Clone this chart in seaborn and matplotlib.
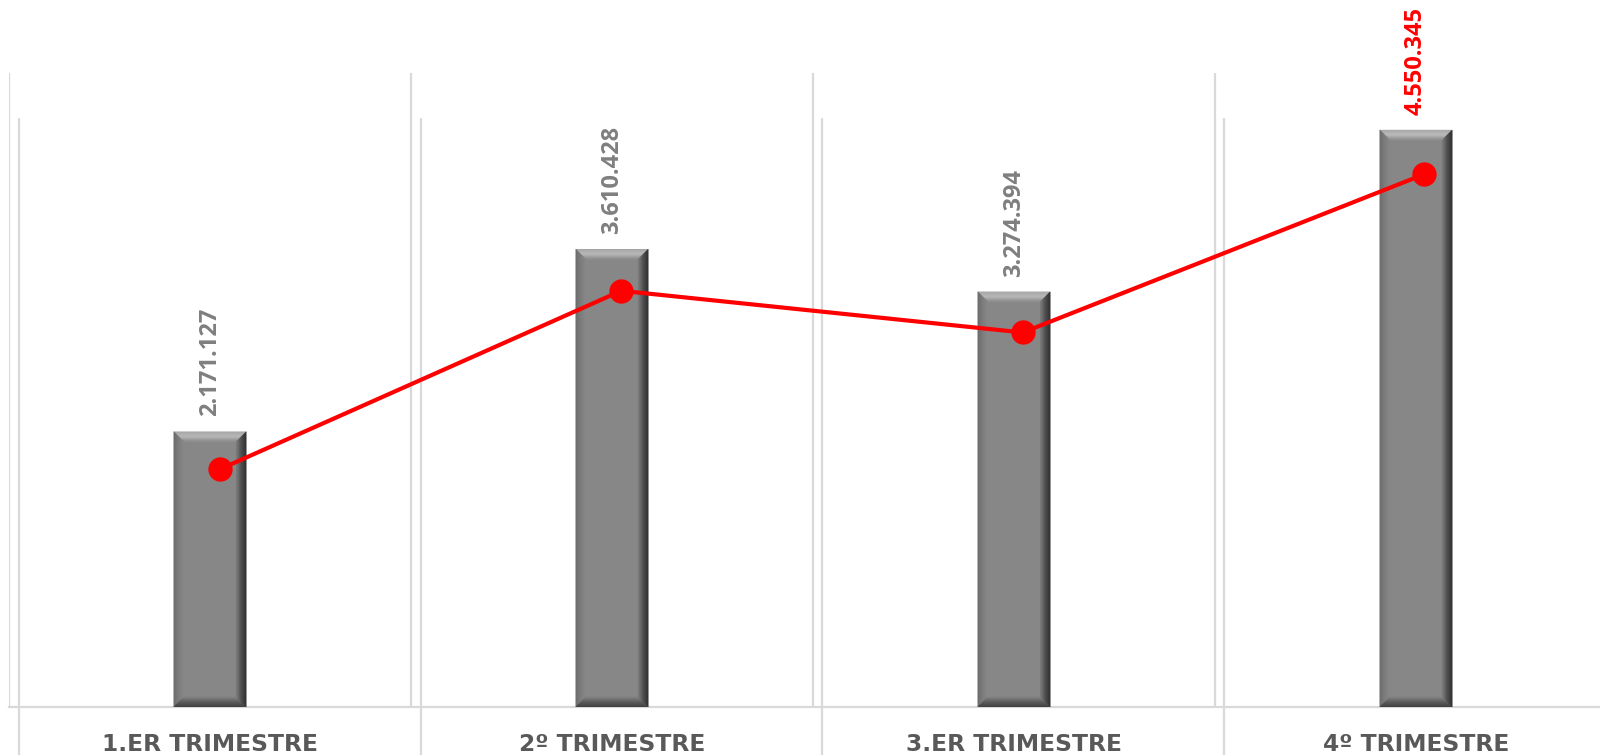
import numpy as np
import matplotlib
matplotlib.use("Agg")
import matplotlib.pyplot as plt
from matplotlib.patches import Polygon
from matplotlib.colors import to_rgb
import seaborn as sns

# Quarterly totals
categories = ["1.ER TRIMESTRE", "2º TRIMESTRE", "3.ER TRIMESTRE", "4º TRIMESTRE"]
bar_values = [2171127, 3610428, 3274394, 4550345]
line_values = [2171127, 3610428, 3274394, 4550345]
label_colors = ["#7f7f7f", "#7f7f7f", "#7f7f7f", "#ff0000"]

sns.set_theme(style="white")
plt.rcParams["font.family"] = ["Open Sans", "DejaVu Sans"]

W, H = 1600, 755
fig = plt.figure(figsize=(W / 100, H / 100), dpi=100)
fig.patch.set_facecolor("white")

GRID = "#d9d9d9"

# Bar axes
ax = fig.add_axes([9 / W, (H - 707) / H, 1608 / W, 634 / H])
sns.barplot(x=categories, y=bar_values, ax=ax, width=0.18, color="#878787",
            saturation=1, edgecolor="none", linewidth=0)
ax.set_xlim(-0.5, len(categories) - 0.5)
ax.set_ylim(0, 5_000_000)
ax.set_yticks([])
ax.set_xlabel("")
ax.set_ylabel("")
for s in ["top", "left", "right"]:
    ax.spines[s].set_visible(False)
ax.spines["bottom"].set_color(GRID)
ax.spines["bottom"].set_linewidth(1.6)
ax.set_xticks(np.arange(len(categories) + 1) - 0.5, minor=True)
ax.grid(which="minor", axis="x", color=GRID, linewidth=1.6)
ax.tick_params(axis="x", which="both", length=0, pad=19, labelcolor="#595959")
for t in ax.get_xticklabels():
    t.set_fontweight("bold")
    t.set_fontfamily("DejaVu Sans")
    t.set_fontsize(16.8)

# Bevelled look on each bar
ax_w_px = ax.get_position().width * W
ax_h_px = ax.get_position().height * H
ux = (ax.get_xlim()[1] - ax.get_xlim()[0]) / ax_w_px
uy = (ax.get_ylim()[1] - ax.get_ylim()[0]) / ax_h_px


def mix(c1, c2, t):
    a, b = np.array(to_rgb(c1)), np.array(to_rgb(c2))
    return tuple(a + (b - a) * t)


def bevel(patch, size=10, bands=10):
    x0, y0 = patch.get_x(), patch.get_y()
    x1, y1 = x0 + patch.get_width(), y0 + patch.get_height()
    dx, dy = size * ux, size * uy
    sides = {
        "top": ("#a8a8a8", "#bcbcbc", "#8c8c8c"),
        "left": ("#6a6a6a", "#7c7c7c", "#888888"),
        "right": ("#2a2a2a", "#4a4a4a", "#7c7c7c"),
        "bottom": ("#3e3e3e", "#5a5a5a", "#828282"),
    }
    for side, (c_out, c_mid, c_in) in sides.items():
        for i in range(bands):
            t0, t1 = i / bands, (i + 1) / bands
            tc = (t0 + t1) / 2
            col = mix(c_out, c_mid, tc * 2) if tc < 0.5 else mix(c_mid, c_in, (tc - 0.5) * 2)
            if side == "top":
                pts = [(x0 + dx * t0, y1 - dy * t0), (x1 - dx * t0, y1 - dy * t0),
                       (x1 - dx * t1, y1 - dy * t1), (x0 + dx * t1, y1 - dy * t1)]
            elif side == "bottom":
                pts = [(x0 + dx * t0, y0 + dy * t0), (x1 - dx * t0, y0 + dy * t0),
                       (x1 - dx * t1, y0 + dy * t1), (x0 + dx * t1, y0 + dy * t1)]
            elif side == "left":
                pts = [(x0 + dx * t0, y0 + dy * t0), (x0 + dx * t0, y1 - dy * t0),
                       (x0 + dx * t1, y1 - dy * t1), (x0 + dx * t1, y0 + dy * t1)]
            else:
                pts = [(x1 - dx * t0, y0 + dy * t0), (x1 - dx * t0, y1 - dy * t0),
                       (x1 - dx * t1, y1 - dy * t1), (x1 - dx * t1, y0 + dy * t1)]
            ax.add_patch(Polygon(pts, closed=True, facecolor=col, edgecolor=col,
                                 linewidth=0.3, zorder=3))


for p in list(ax.patches):
    bevel(p)

# Value labels above bars
labels = [f"{v:,}".replace(",", ".") for v in bar_values]
texts = ax.bar_label(ax.containers[0], labels=labels, rotation=90, padding=11,
                     fontsize=17, fontweight="bold", fontfamily="Open Sans")
for t, c in zip(texts, label_colors):
    t.set_color(c)

# Line axes (secondary scale)
ax2 = fig.add_axes([19 / W, (H - 738.5) / H, 1606 / W, 620 / H])
ax2.patch.set_alpha(0)
pos = np.arange(len(categories))
sns.lineplot(x=pos, y=line_values, ax=ax2, color="#ff0000", linewidth=3,
             marker="o", markersize=17.5, markeredgewidth=0, zorder=5)
ax2.set_xlim(-0.5, len(categories) - 0.5)
ax2.set_ylim(0, 5_000_000)
ax2.set_xticks([])
ax2.set_yticks([])
ax2.set_xlabel("")
ax2.set_ylabel("")
for s in ax2.spines.values():
    s.set_visible(False)
for b in np.arange(len(categories)) - 0.5:
    ax2.axvline(b, ymin=-0.06, ymax=1, color=GRID, linewidth=1.6,
                clip_on=False, zorder=0)

fig.savefig("out.png", dpi=100, facecolor="white")
